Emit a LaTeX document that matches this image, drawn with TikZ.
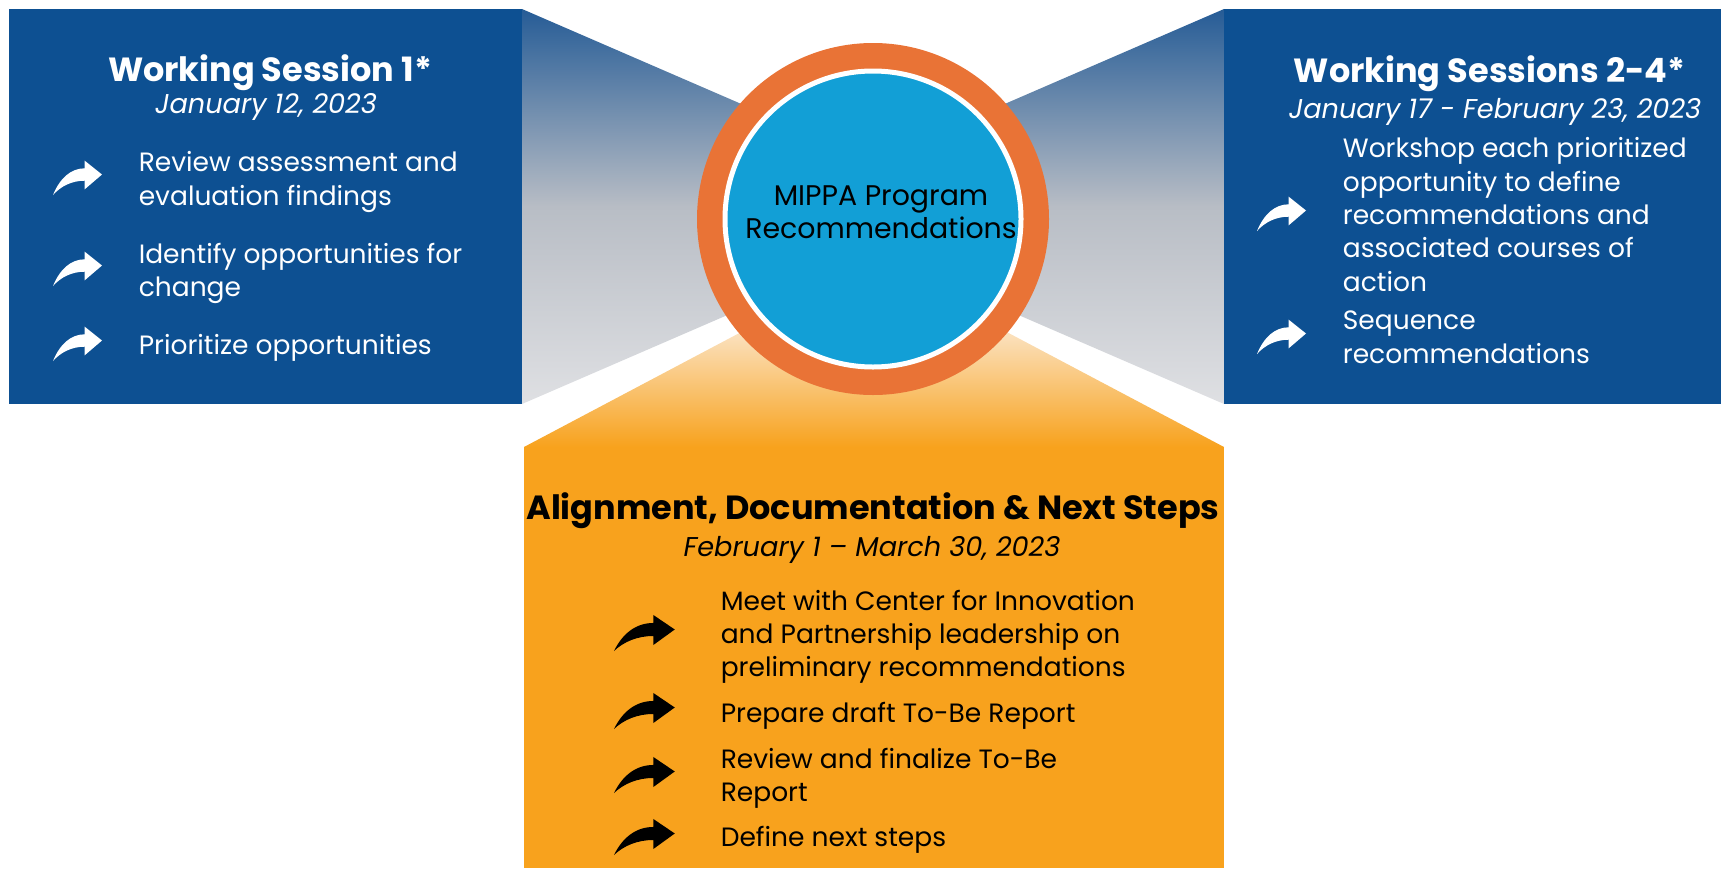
\documentclass[tikz,border=0pt]{standalone}
\usepackage{fontspec}
\setmainfont{Poppins}
\usetikzlibrary{positioning}

\definecolor{sessionblue}{RGB}{13,80,146}
\definecolor{hubblue}{RGB}{18,159,214}
\definecolor{ringorange}{RGB}{233,115,54}
\definecolor{alignorange}{RGB}{248,162,29}
\definecolor{paleorange}{RGB}{251,232,208}
\definecolor{funnelblue}{RGB}{38,92,150}
\definecolor{funnelgray}{RGB}{184,189,197}
\definecolor{funnellight}{RGB}{223,224,227}

\tikzset{
  paneltitle/.style={font=\fontsize{33.5}{38}\selectfont\bfseries, inner sep=0pt, anchor=base},
  paneldate/.style={font=\fontsize{27.2}{33}\selectfont\itshape, inner sep=0pt, anchor=base},
  % multi-line items: the anchor sits on the baseline of the last line
  itemtext/.style={font=\fontsize{26.5}{33.3}\selectfont, align=left, inner sep=0pt, anchor=base west},
  curl arrow/.pic={
    \fill[yscale=-1] (0,0) .. controls (7,17) and (18,26.7) .. (31.7,26.7)
      -- (31.7,34.3) -- (49,20.5) -- (31.7,5.7) -- (31.7,14.3)
      .. controls (19,14.3) and (8,9) .. cycle;
  }
}

\begin{document}
\begin{tikzpicture}[x=1pt, y=-1pt]
    \useasboundingbox (0,0) rectangle (1721,868);

    % funnels behind the hub
    \shade[top color=funnelblue, bottom color=funnellight, middle color=funnelgray]
        (522,9) -- (873,161) -- (873,252) -- (522,404) -- cycle;
    \shade[top color=funnelblue, bottom color=funnellight, middle color=funnelgray]
        (1224,9) -- (873,161) -- (873,252) -- (1224,404) -- cycle;
    \shade[top color=paleorange, bottom color=alignorange]
        (524,447) -- (764,320) -- (984,320) -- (1224,447) -- cycle;

    % panels
    \fill[sessionblue] (9,9) rectangle (522,404);
    \fill[sessionblue] (1224,9) rectangle (1721,404);
    \fill[alignorange] (524,447) rectangle (1224,868);

    % hub
    \fill[ringorange] (873,219) circle (176pt);
    \node[circle, fill=hubblue, draw=white, line width=5pt, minimum size=296pt] (hub) at (873,219) {};
    \node[font=\fontsize{28.4}{33}\selectfont, align=center, inner sep=0pt, anchor=base] (hubtext) at (881,238)
        {MIPPA Program\\Recommendations};

    % working session 1
    \node[paneltitle, white] (ws1) at (270,81) {Working Session 1*};
    \node[paneldate, white] (ws1date) at (266,113) {January 12, 2023};
    \node[itemtext, white] (ws1a) at (138.6,205) {Review assessment and\\evaluation findings};
    \node[itemtext, white] (ws1b) at (138.6,296.7) {Identify opportunities for\\change};
    \node[itemtext, white] (ws1c) at (138.6,354) {Prioritize opportunities};
    \foreach \y in {195,286,361}
        \pic[white] at (53,\y) {curl arrow};

    % working sessions 2-4
    \node[paneltitle, white] (ws2) at (1489.5,82.3) {Working Sessions 2-4*};
    \node[paneldate, white] (ws2date) at (1495,118.3) {January 17 - February 23, 2023};
    \node[itemtext, white] (ws2a) at (1342.7,291)
        {Workshop each prioritized\\opportunity to define\\recommendations and\\associated courses of\\action};
    \node[itemtext, white] (ws2b) at (1342.7,363) {Sequence\\recommendations};
    \foreach \y in {231,354}
        \pic[white] at (1257,\y) {curl arrow};

    % alignment and next steps
    \node[paneltitle] (align) at (873,519.3) {Alignment, Documentation \& Next Steps};
    \node[paneldate] (aligndate) at (872,556.7) {February 1 -- March 30, 2023};
    \node[itemtext] (alga) at (720.6,676.7)
        {Meet with Center for Innovation\\and Partnership leadership on\\preliminary recommendations};
    \node[itemtext] (algb) at (720.6,722.7) {Prepare draft To-Be Report};
    \node[itemtext] (algc) at (720.6,801.7) {Review and finalize To-Be\\Report};
    \node[itemtext] (algd) at (720.6,846.7) {Define next steps};
    \foreach \y in {651,729,793,855}
        \pic[black, xscale=1.24, yscale=1.05] at (614,\y) {curl arrow};
\end{tikzpicture}
\end{document}
